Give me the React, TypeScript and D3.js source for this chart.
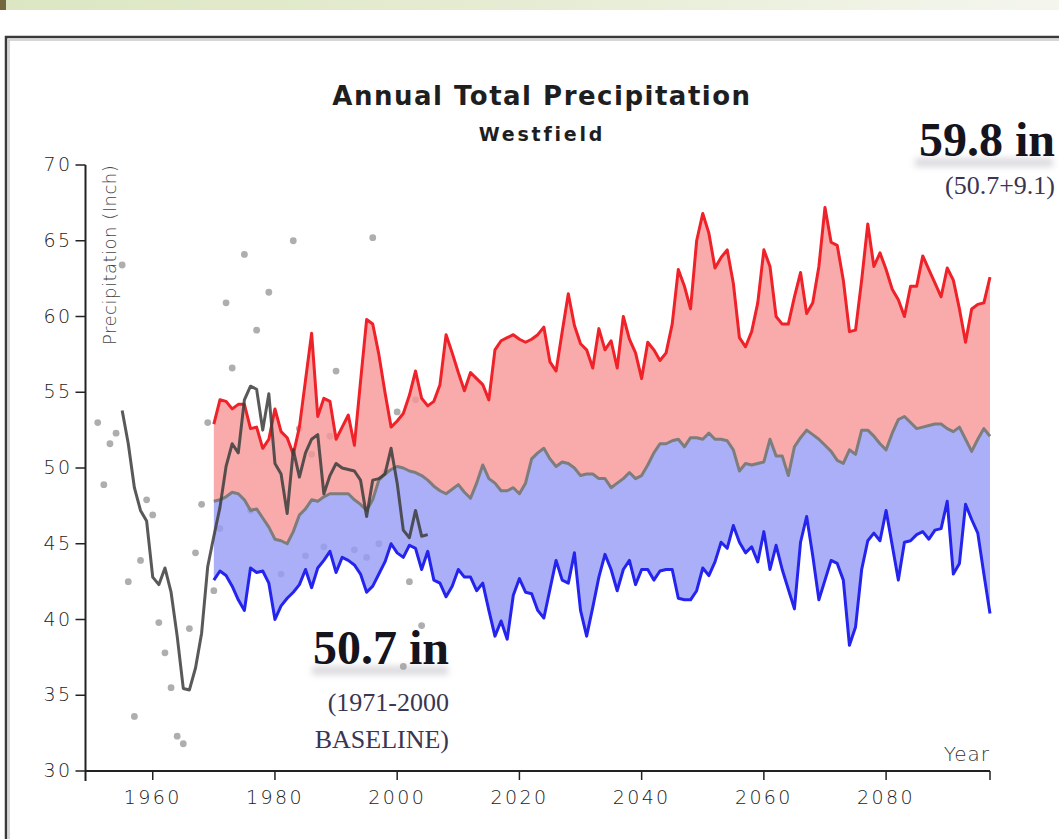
import React from 'react';
import * as d3 from 'd3';

// ---- data (inches) ----
const projStartYear = 1970;
const upperProj = [
  52.9, 54.5, 54.4, 53.9, 54.2, 54.2, 52.6, 52.7, 51.3, 51.9,
  53.9, 52.4, 52.0, 50.9, 52.7, 55.8, 58.9, 53.4, 54.6, 54.4,
  51.9, 52.7, 53.5, 51.5, 55.7, 59.8, 59.5, 57.5, 55.0, 52.7,
  53.1, 53.6, 54.8, 56.4, 54.6, 54.1, 54.4, 55.5, 58.8, 57.6,
  56.3, 55.1, 56.3, 55.9, 55.5, 54.5, 57.8, 58.4, 58.6, 58.8,
  58.5, 58.3, 58.5, 58.8, 59.3, 57.0, 56.4, 59.0, 61.5, 59.4,
  58.2, 57.8, 56.6, 59.2, 57.8, 58.4, 56.6, 60.0, 58.5, 57.6,
  55.9, 58.3, 57.8, 57.1, 57.6, 59.5, 63.1, 62.0, 60.5, 65.0,
  66.8, 65.5, 63.2, 63.9, 64.4, 62.2, 58.6, 58.0, 59.0, 60.9,
  64.4, 63.3, 60.0, 59.5, 59.5, 61.3, 62.9, 60.2, 60.9, 63.3,
  67.2, 64.9, 64.7, 62.4, 59.0, 59.1, 62.4, 66.1, 63.3, 64.2,
  63.1, 61.8, 61.1, 60.0, 62.0, 62.0, 64.0, 63.1, 62.2, 61.3,
  63.2, 62.4, 60.5, 58.3, 60.5, 60.8, 60.9, 62.6,
];
const medianProj = [
  47.8, 47.9, 48.1, 48.4, 48.3, 47.9, 47.2, 47.3, 46.7, 46.1,
  45.3, 45.2, 45.0, 45.8, 46.9, 47.3, 47.9, 47.8, 48.1, 48.3,
  48.3, 48.3, 48.3, 47.9, 47.6, 47.2, 47.9, 49.2, 49.6, 49.9,
  50.1, 50.0, 49.8, 49.7, 49.5, 49.2, 48.8, 48.5, 48.3, 48.6,
  48.9, 48.4, 48.0, 49.0, 50.2, 49.3, 49.0, 48.5, 48.5, 48.7,
  48.3, 49.0, 50.6, 51.0, 51.3, 50.6, 50.1, 50.4, 50.3, 50.0,
  49.5, 49.6, 49.6, 49.3, 49.3, 48.7, 49.0, 49.3, 49.7, 49.3,
  49.5, 50.2, 51.0, 51.6, 51.6, 51.8, 51.9, 51.4, 52.0, 52.0,
  51.9, 52.3, 51.9, 51.9, 51.8, 51.2, 49.8, 50.3, 50.2, 50.3,
  50.4, 51.9, 50.8, 50.8, 49.5, 51.4, 52.0, 52.5, 52.2, 51.9,
  51.5, 51.1, 50.5, 50.3, 51.2, 50.9, 52.5, 52.5, 52.1, 51.6,
  51.2, 52.3, 53.2, 53.4, 53.0, 52.6, 52.7, 52.8, 52.9, 52.9,
  52.6, 52.4, 52.7, 51.9, 51.1, 51.9, 52.6, 52.1,
];
const lowerProj = [
  42.6, 43.2, 42.9, 42.2, 41.3, 40.6, 43.4, 43.1, 43.2, 42.4,
  40.0, 40.9, 41.4, 41.8, 42.3, 43.3, 42.1, 43.4, 43.9, 44.5,
  43.1, 44.1, 43.9, 43.6, 43.0, 41.8, 42.2, 43.0, 43.8, 45.0,
  44.4, 44.1, 44.9, 44.7, 43.3, 44.5, 42.6, 42.4, 41.5, 42.2,
  43.3, 42.8, 42.8, 41.9, 42.4, 40.6, 38.9, 39.9, 38.7, 41.6,
  42.7, 41.8, 41.7, 40.6, 40.1, 42.0, 43.9, 42.6, 42.4, 44.4,
  40.6, 38.9, 40.8, 42.8, 44.3, 43.3, 41.9, 43.3, 43.9, 42.3,
  43.3, 43.3, 42.6, 43.2, 43.3, 43.3, 41.4, 41.3, 41.3, 41.9,
  43.4, 42.9, 43.8, 45.1, 44.7, 46.2, 45.1, 44.4, 44.8, 43.8,
  45.8, 43.3, 44.9, 43.3, 42.0, 40.7, 45.1, 46.8, 44.2, 41.3,
  42.6, 43.9, 43.7, 42.6, 38.3, 39.5, 43.3, 45.2, 45.7, 45.2,
  47.2, 44.9, 42.6, 45.1, 45.2, 45.6, 45.8, 45.3, 45.9, 46.0,
  47.8, 43.0, 43.7, 47.6, 46.6, 45.7, 43.0, 40.4,
];
const obsStartYear = 1955;
const observedLine = [
  53.8, 51.6, 48.7, 47.2, 46.5, 42.8, 42.3, 43.4, 41.8, 38.9,
  35.45, 35.35, 36.8, 39.1, 43.5, 45.5, 47.4, 50.1, 51.6, 51.0,
  54.5, 55.4, 55.2, 52.5, 54.9, 50.3, 49.6, 47.0, 51.2, 49.4,
  51.0, 51.9, 52.2, 48.3, 49.5, 50.3, 50.0, 49.9, 49.8, 49.2,
  46.8, 49.2, 49.3, 49.6, 51.3, 49.0, 45.9, 45.4, 47.2, 45.5,
  45.6,
];
const dotYears = [
  1951, 1952, 1953, 1954, 1955, 1956, 1957, 1958, 1959, 1960,
  1961, 1962, 1963, 1964, 1965, 1966, 1967, 1968, 1969, 1970,
  1971, 1972, 1973, 1975, 1976, 1977, 1979, 1981, 1983, 1984,
  1985, 1986, 1988, 1989, 1990, 1993, 1995, 1996, 1997, 1998,
  2000, 2001, 2002, 2003, 2004,
];
const dotValues = [
  53.0, 48.9, 51.6, 52.3, 63.4, 42.5, 33.6, 43.9, 47.9, 46.9,
  39.8, 37.8, 35.5, 32.3, 31.8, 39.4, 44.4, 47.6, 53.0, 41.9,
  46.0, 60.9, 56.6, 64.1, 47.2, 59.1, 61.6, 43.0, 65.0, 52.6,
  44.2, 50.9, 44.8, 52.1, 56.4, 44.6, 44.1, 65.2, 45.0, 49.7,
  53.7, 36.9, 42.5, 54.5, 39.6,
];
const xTickValues = [1960, 1980, 2000, 2020, 2040, 2060, 2080];
const yTickValues = [30, 35, 40, 45, 50, 55, 60, 65, 70];

const W = 1059;
const H = 839;
const tickFont = "'DejaVu Sans', sans-serif";
const titleFont = "'DejaVu Sans', sans-serif";
const serif = "'Liberation Serif', 'Times New Roman', serif";

export default function App() {
  const x = d3.scaleLinear().domain([1949, 2097]).range([85.5, 990]);
  const y = d3.scaleLinear().domain([30, 70]).range([771, 165]);

  const proj = upperProj.map((hi, i) => ({
    year: projStartYear + i,
    hi,
    mid: medianProj[i],
    lo: lowerProj[i],
  }));
  const obs = observedLine.map((v, i) => ({ year: obsStartYear + i, v }));

  const areaUpper = d3
    .area<any>()
    .x((d) => x(d.year))
    .y0((d) => y(d.mid))
    .y1((d) => y(d.hi))(proj) as string;
  const areaLower = d3
    .area<any>()
    .x((d) => x(d.year))
    .y0((d) => y(d.mid))
    .y1((d) => y(d.lo))(proj) as string;
  const lineOf = (key: string) =>
    d3
      .line<any>()
      .x((d) => x(d.year))
      .y((d) => y(d[key]))(proj) as string;
  const obsPath = d3
    .line<any>()
    .x((d) => x(d.year))
    .y((d) => y(d.v))(obs) as string;

  const [x0, x1] = x.range();
  const [yb, yt] = y.range();

  return (
    <div style={{ position: 'absolute', left: 0, top: 0 }}>
      <svg width={W} height={H} viewBox={`0 0 ${W} ${H}`} style={{ display: 'block', background: '#fff' }}>
        <defs>
          <linearGradient id="band" x1="0" x2="1" y1="0" y2="0">
            <stop offset="0" stopColor="#dce6c2" />
            <stop offset="0.5" stopColor="#e6ecd3" />
            <stop offset="1" stopColor="#f4f6ee" />
          </linearGradient>
          <filter id="blur" x="-20%" y="-100%" width="140%" height="300%">
            <feGaussianBlur stdDeviation="3" />
          </filter>
        </defs>

        {/* top decoration band */}
        <rect x={0} y={0} width={W} height={10} fill="url(#band)" />
        <rect x={0} y={0} width={6} height={10} fill="#75683f" />

        {/* frame */}
        <rect x={6} y={37} width={W + 20} height={H} fill="none" stroke="#3a3a3a" strokeWidth={2.5} />
        <line x1={8} x2={W} y1={40} y2={40} stroke="#c8c8c8" strokeWidth={1.5} />
        <line x1={9} x2={9} y1={40} y2={H} stroke="#c8c8c8" strokeWidth={1.5} />

        {/* observed annual dots */}
        {dotYears.map((yr, i) => (
          <circle key={yr} cx={x(yr)} cy={y(dotValues[i])} r={3.4} fill="#aeaeae" />
        ))}

        {/* projection envelopes */}
        <path d={areaUpper} fill="rgb(247,150,150)" fillOpacity={0.8} />
        <path d={areaLower} fill="rgb(150,155,245)" fillOpacity={0.8} />
        <path d={lineOf('mid')} fill="none" stroke="#7d7d7d" strokeWidth={3} strokeLinejoin="round" />
        <path d={lineOf('hi')} fill="none" stroke="#ee2228" strokeWidth={3} strokeLinejoin="round" />
        <path d={lineOf('lo')} fill="none" stroke="#2424ee" strokeWidth={3} strokeLinejoin="round" />

        {/* observed smoothed */}
        <path d={obsPath} fill="none" stroke="#3c3c3c" strokeOpacity={0.85} strokeWidth={3} strokeLinejoin="round" />

        {/* axes */}
        <line x1={x0} x2={x1} y1={yb} y2={yb} stroke="#222" strokeWidth={2} />
        <line x1={x0} x2={x0} y1={yt} y2={yb + 10} stroke="#222" strokeWidth={2} />
        {xTickValues.map((t) => (
          <g key={t}>
            <line x1={x(t)} x2={x(t)} y1={yb} y2={yb + 9} stroke="#222" strokeWidth={1.5} />
            <text x={x(t)} y={yb + 33} textAnchor="middle" fontFamily={tickFont} fontWeight={200} fontSize={19} letterSpacing={2.4} fill="#222">
              {t}
            </text>
          </g>
        ))}
        <line x1={x1} x2={x1} y1={yb} y2={yb + 9} stroke="#222" strokeWidth={1.5} />
        {yTickValues.map((t) => (
          <g key={t}>
            <line x1={x0 - 10} x2={x0} y1={y(t)} y2={y(t)} stroke="#222" strokeWidth={1.5} />
            <text x={x0 - 13} y={y(t) + 6} textAnchor="end" fontFamily={tickFont} fontWeight={200} fontSize={19} letterSpacing={2.4} fill="#222">
              {t}
            </text>
          </g>
        ))}
        <text x={x1} y={yb - 10} textAnchor="end" fontFamily={tickFont} fontWeight={200} fontSize={20} letterSpacing={1} fill="#333">
          Year
        </text>
        <text
          transform={`translate(116, 345) rotate(-90)`}
          x={0}
          y={0}
          textAnchor="start"
          fontFamily={tickFont}
          fontWeight={200}
          fontSize={18}
          letterSpacing={0.5}
          fill="#444"
        >
          Precipitation (Inch)
        </text>

        {/* titles */}
        <text x={542} y={105} textAnchor="middle" fontFamily={titleFont} fontWeight={700} fontSize={26} letterSpacing={1.5} fill="#1e1e1e">
          Annual Total Precipitation
        </text>
        <text x={542} y={141} textAnchor="middle" fontFamily={titleFont} fontWeight={700} fontSize={19} letterSpacing={2.8} fill="#1e1e1e">
          Westfield
        </text>

        {/* soft reflections below the big figures */}
        <rect x={915} y={158} width={138} height={9} fill="#9a9aa6" opacity={0.35} filter="url(#blur)" />
        <rect x={312} y={666} width={136} height={9} fill="#9a9aa6" opacity={0.35} filter="url(#blur)" />

        {/* annotations */}
        <text x={1055} y={156} textAnchor="end" fontFamily={serif} fontWeight={700} fontSize={48} fill="#15131c">
          59.8 in
        </text>
        <text x={1055} y={194} textAnchor="end" fontFamily={serif} fontSize={26} fill="#3a3552">
          (50.7+9.1)
        </text>

        <text x={449} y={664} textAnchor="end" fontFamily={serif} fontWeight={700} fontSize={48} fill="#15131c">
          50.7 in
        </text>
        <text x={449} y={711} textAnchor="end" fontFamily={serif} fontSize={26} fill="#3a3552">
          (1971-2000
        </text>
        <text x={449} y={748} textAnchor="end" fontFamily={serif} fontSize={26} fill="#3a3552">
          BASELINE)
        </text>
      </svg>
    </div>
  );
}
